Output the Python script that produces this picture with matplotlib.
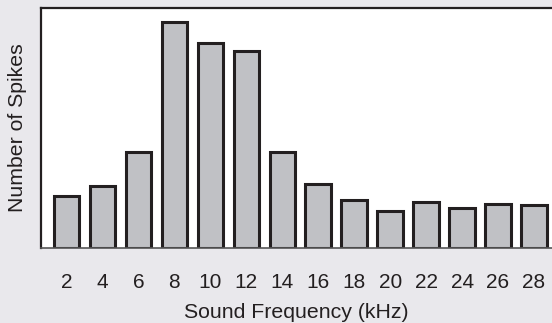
import matplotlib
matplotlib.use("Agg")
import matplotlib.pyplot as plt

# Data (arbitrary spike-count units, no y scale shown)
freqs = [2, 4, 6, 8, 10, 12, 14, 16, 18, 20, 22, 24, 26, 28]
spikes = [52, 62, 96, 226, 205, 197, 96, 64, 48, 37, 46, 40, 44, 43]

BG = '#e9e8ec'
BAR = '#c0c1c5'
EDGE = '#231f20'

plt.rcParams['font.family'] = ['Liberation Sans', 'DejaVu Sans']

fig = plt.figure(figsize=(5.52, 3.23), dpi=100, facecolor=BG)
ax = fig.add_axes([41 / 552, 75 / 323, 511 / 552, 240 / 323])
ax.set_facecolor('white')

ax.bar(freqs, spikes, width=1.42, color=BAR, edgecolor=EDGE, linewidth=2.2, zorder=2)

ax.set_xlim(0.58, 29.0)
ax.set_ylim(0, 240)
ax.set_xticks(freqs)
ax.set_xticklabels([str(f) for f in freqs], fontsize=15, color='#231f20')
ax.tick_params(axis='x', length=0, pad=18)
ax.set_yticks([])

for side in ['left', 'top']:
    ax.spines[side].set_color(EDGE)
    ax.spines[side].set_linewidth(1.6)
ax.spines['bottom'].set_color('#555555')
ax.spines['bottom'].set_linewidth(1.2)
ax.spines['right'].set_visible(False)

ax.set_xlabel('Sound Frequency (kHz)', fontsize=15.3, color='#231f20', labelpad=8)
ax.set_ylabel('Number of Spikes', fontsize=15.3, color='#231f20', labelpad=10)

fig.savefig('out.png', dpi=100, facecolor=BG)
